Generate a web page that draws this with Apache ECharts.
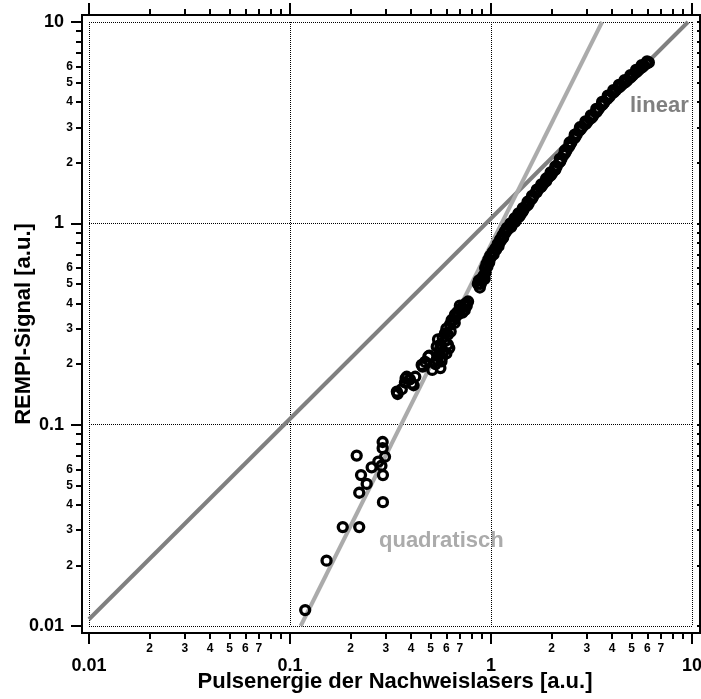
<!DOCTYPE html>
<html><head><meta charset="utf-8">
<script src="https://cdn.jsdelivr.net/npm/echarts@6/dist/echarts.min.js"></script>
<style>html,body{margin:0;padding:0;background:#fff}#c{width:701px;height:699px}</style>
</head><body><div id="c"></div>
<script>
// ---- data ----
const pulseEnergy = [
  0.119,0.152,0.183,0.221,0.290,0.221,0.2407,0.2256,0.290,0.2548,0.285,0.2147,0.289,0.289,0.297,0.275,
  0.340,0.343,0.360,0.373,0.376,0.381,0.395,0.405,0.412,0.420,0.452,0.457,0.470,0.488,0.493,0.510,0.530,
  0.545,0.537,0.557,0.560,0.567,0.560,0.575,0.590,0.600,0.610,0.620,0.600,0.625,0.637,0.662,0.680,0.701,
  0.717,0.735,0.757,0.769,0.740,
  0.55,0.58,0.59,0.61,0.63,0.65,0.67,0.69,0.72,0.75,0.70,0.66,0.54,0.57,
  0.86,0.88,0.90,0.92,0.93,0.935,0.95,0.97,0.99,1.02,1.05,1.08,1.11,1.14,1.17,1.20,
  0.87,0.89,0.91,0.94,0.96,0.98,1.00,1.03,1.06,1.09,1.12,1.15,1.18,1.21,1.10,1.13,
  1.24,1.27,1.30,1.33,1.36,1.40,1.43,1.46,1.50,1.54,1.58,1.62,1.67,1.71,1.76,1.81,1.86,1.91,1.96,2.01,
  2.06,2.12,2.18,2.24,2.30,2.37,2.44,2.51,2.59,2.67,2.75,2.84,2.93,3.02,3.12,3.22,3.33,3.44,3.55,3.67,
  3.79,3.91,4.04,4.17,4.31,4.45,4.60,4.75,4.91,5.07,5.24,5.41,5.58,5.76,5.95,6.10,
  1.26,1.32,1.38,1.44,1.52,1.60,1.69,1.78,1.88,1.98,2.09,2.21,2.33,2.47,2.63,2.79,2.97,3.17,3.38,3.61,
  3.85,4.10,4.38,4.67,4.99,5.32,5.67,6.02,
  1.25,1.31,1.37,1.44,1.52,1.60,1.69,1.78,1.88,1.98,2.09,2.20,2.33,2.46,2.61,2.77,2.95,3.14,3.34,3.57,
  3.81,4.06,4.33,4.62,4.94,5.27,5.62,5.98
];
const rempiSignal = [
  0.0120,0.0211,0.031,0.031,0.0412,0.0459,0.0508,0.0562,0.0562,0.0614,0.0625,0.0702,0.082,0.0764,0.0693,0.0655,
  0.146,0.142,0.150,0.162,0.170,0.173,0.168,0.160,0.157,0.173,0.198,0.194,0.205,0.218,0.220,0.187,0.200,
  0.265,0.244,0.236,0.191,0.206,0.250,0.270,0.284,0.226,0.250,0.240,0.300,0.314,0.331,0.352,0.362,0.371,
  0.382,0.390,0.389,0.409,0.370,
  0.22,0.23,0.26,0.28,0.29,0.33,0.345,0.355,0.36,0.40,0.39,0.32,0.21,0.215,
  0.50,0.48,0.52,0.55,0.53,0.60,0.63,0.66,0.69,0.72,0.75,0.79,0.83,0.87,0.91,0.95,
  0.52,0.50,0.54,0.57,0.61,0.64,0.68,0.70,0.74,0.77,0.82,0.85,0.90,0.93,0.80,0.84,
  0.97,0.99,1.01,1.04,1.07,1.10,1.14,1.18,1.22,1.26,1.31,1.36,1.42,1.47,1.51,1.56,1.61,1.67,1.72,1.77,
  1.83,1.91,2.00,2.09,2.19,2.29,2.40,2.52,2.64,2.77,2.89,3.00,3.10,3.20,3.31,3.42,3.56,3.71,3.85,4.00,
  4.15,4.30,4.44,4.58,4.72,4.85,4.98,5.12,5.28,5.44,5.60,5.76,5.92,6.07,6.22,6.30,
  0.96,1.02,1.08,1.15,1.23,1.33,1.43,1.52,1.62,1.73,1.85,2.03,2.23,2.45,2.69,2.93,3.13,3.35,3.62,3.92,
  4.22,4.50,4.78,5.04,5.35,5.67,5.99,6.27,
  1.00,1.06,1.12,1.19,1.28,1.37,1.47,1.56,1.67,1.79,1.92,2.09,2.30,2.52,2.76,3.00,3.21,3.44,3.70,4.01,
  4.31,4.59,4.87,5.14,5.45,5.78,6.10,6.38
];
const linearFitX = [0.01, 9.55];
const linearFitY = [0.0108, 10];
const quadFitX = [0.113, 3.57];
const quadFitY = [0.01, 10];
const minorTickValues = [0.02,0.03,0.04,0.05,0.06,0.07,0.08,0.09,0.2,0.3,0.4,0.5,0.6,0.7,0.8,0.9,2,3,4,5,6,7,8,9];
const xMinorLabelValues = [0.02,0.03,0.04,0.05,0.06,0.07,0.2,0.3,0.4,0.5,0.6,0.7,2,3,4,5,6,7];
const yMinorLabelValues = [0.02,0.03,0.04,0.05,0.06,0.2,0.3,0.4,0.5,0.6,2,3,4,5,6];
const xTitle = 'Pulsenergie der Nachweislasers [a.u.]';
const yTitle = 'REMPI-Signal [a.u.]';
const linearLabel = 'linear';
const quadLabel = 'quadratisch';

// ---- chart ----
const FONT = '"Liberation Sans", Arial, Helvetica, sans-serif';
const zip = (a, b) => a.map((v, i) => [v, b[i]]);
const majorFmt = v => String(Number(Number(v).toPrecision(2)));
const minorFmt = v => { const e = Math.floor(Math.log10(v) + 1e-9); return String(Math.round(v / Math.pow(10, e))); };
const tickStyle = { color: '#000', width: 2 };
const dotted = { show: true, lineStyle: { color: '#000', width: 1, type: [1, 1] } };

function logAxis(extra) {
  return Object.assign({
    type: 'log', logBase: 10, min: 0.01, max: 10, gridIndex: 0,
    axisLine: { show: false }, splitLine: { show: false },
    axisTick: { show: false }, axisLabel: { show: false }
  }, extra);
}

const chart = echarts.init(document.getElementById('c'), null, { renderer: 'canvas' });
chart.setOption({
  animation: false,
  backgroundColor: '#fff',
  grid: [
    { left: 89, top: 22, width: 603, height: 604, containLabel: false, outerBoundsMode: 'none' },
    { left: 82, top: 15, width: 618, height: 618, show: true, borderColor: '#000', borderWidth: 2,
      backgroundColor: 'transparent', containLabel: false, outerBoundsMode: 'none', z: 10 }
  ],
  xAxis: [
    logAxis({ position: 'bottom', offset: 7,
      axisTick: { show: true, length: 11, lineStyle: tickStyle },
      axisLabel: { show: true, margin: 24, fontSize: 18, fontWeight: 'bold', fontFamily: FONT, color: '#000', formatter: majorFmt, showMinLabel: true, showMaxLabel: true },
      splitLine: dotted,
      name: xTitle, nameLocation: 'middle', nameGap: 38, nameMoveOverlap: false,
      nameTextStyle: { fontSize: 22, fontWeight: 'bold', fontFamily: FONT, color: '#000', padding: [0, 0, 0, 9] }
    }),
    logAxis({ position: 'bottom', offset: 7,
      axisTick: { show: true, length: 6, lineStyle: tickStyle, customValues: minorTickValues },
      axisLabel: { show: true, margin: 10, fontSize: 12, fontWeight: 'bold', fontFamily: FONT, color: '#000', formatter: minorFmt, customValues: xMinorLabelValues }
    }),
    logAxis({ position: 'top', offset: 7, axisTick: { show: true, length: 12, lineStyle: tickStyle } }),
    logAxis({ position: 'top', offset: 7, axisTick: { show: true, length: 6, lineStyle: tickStyle, customValues: minorTickValues } }),
    { type: 'value', gridIndex: 1, show: false }
  ],
  yAxis: [
    logAxis({ position: 'left', offset: 7,
      axisTick: { show: true, length: 11, lineStyle: tickStyle },
      axisLabel: { show: true, margin: 18, fontSize: 18, fontWeight: 'bold', fontFamily: FONT, color: '#000', formatter: majorFmt, showMinLabel: true, showMaxLabel: true },
      splitLine: dotted,
      name: yTitle, nameLocation: 'middle', nameGap: 47, nameRotate: 90, nameMoveOverlap: false,
      nameTextStyle: { fontSize: 22, fontWeight: 'bold', fontFamily: FONT, color: '#000' }
    }),
    logAxis({ position: 'left', offset: 7,
      axisTick: { show: true, length: 6, lineStyle: tickStyle, customValues: minorTickValues },
      axisLabel: { show: true, margin: 9, fontSize: 12, fontWeight: 'bold', fontFamily: FONT, color: '#000', formatter: minorFmt, customValues: yMinorLabelValues }
    }),
    logAxis({ position: 'right', offset: 8, axisTick: { show: true, inside: true, length: 3, lineStyle: tickStyle } }),
    logAxis({ position: 'right', offset: 8, axisTick: { show: true, inside: true, length: 3, lineStyle: tickStyle, customValues: minorTickValues } }),
    { type: 'value', gridIndex: 1, show: false }
  ],
  series: [
    { name: 'linear', type: 'line', xAxisIndex: 0, yAxisIndex: 0, data: zip(linearFitX, linearFitY),
      symbol: 'none', lineStyle: { color: '#808080', width: 4 }, z: 2, silent: true },
    { name: 'quadratisch', type: 'line', xAxisIndex: 0, yAxisIndex: 0, data: zip(quadFitX, quadFitY),
      symbol: 'none', lineStyle: { color: '#ababab', width: 4 }, z: 2, silent: true },
    { name: 'REMPI', type: 'scatter', xAxisIndex: 0, yAxisIndex: 0, data: zip(pulseEnergy, rempiSignal),
      symbol: 'circle', symbolSize: 9, large: false,
      itemStyle: { color: 'transparent', borderColor: '#000', borderWidth: 3.3, opacity: 1 }, z: 3, silent: true }
  ],
  graphic: [
    { type: 'text', x: 630, y: 106, z: 5, style: { text: linearLabel, fill: '#808080', font: 'bold 22px ' + FONT, verticalAlign: 'middle', align: 'left' } },
    { type: 'text', x: 379, y: 541, z: 5, style: { text: quadLabel, fill: '#ababab', font: 'bold 22px ' + FONT, verticalAlign: 'middle', align: 'left' } }
  ]
});
</script></body></html>
